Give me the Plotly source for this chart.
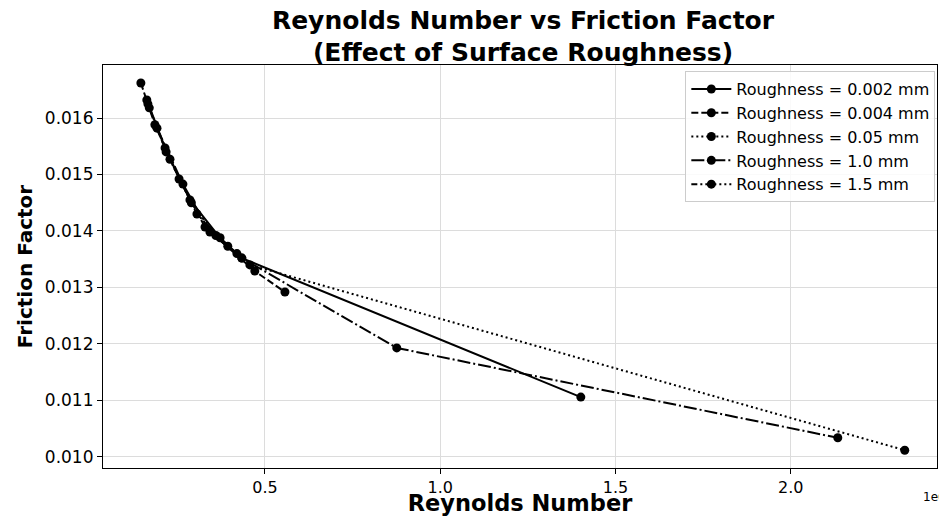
import plotly.graph_objects as go

# Data
series_names = ["Roughness = 0.002 mm", "Roughness = 0.004 mm", "Roughness = 0.05 mm",
                "Roughness = 1.0 mm", "Roughness = 1.5 mm"]

re_0002 = [163000, 215000, 286000, 372000, 434000, 1401000]
f_0002 = [0.01632, 0.01547, 0.01455, 0.01388, 0.01352, 0.01106]

re_0004 = [146000, 186000, 255000, 329000, 471000, 557000]
f_0004 = [0.01662, 0.01588, 0.01492, 0.01407, 0.01329, 0.01292]

re_005 = [166000, 218000, 306000, 394000, 457000, 2325000]
f_005 = [0.01625, 0.01540, 0.01430, 0.01373, 0.01340, 0.01012]

re_10 = [192000, 266000, 343000, 434000, 876000, 2134000]
f_10 = [0.01582, 0.01483, 0.01398, 0.01352, 0.01193, 0.01034]

re_15 = [170000, 229000, 290000, 360000, 420000]
f_15 = [0.01618, 0.01527, 0.01450, 0.01392, 0.01360]

x_tickvals = [500000, 1000000, 1500000, 2000000]
x_ticktext = ["0.5", "1.0", "1.5", "2.0"]
y_tickvals = [0.010, 0.011, 0.012, 0.013, 0.014, 0.015, 0.016]
y_ticktext = ["0.010", "0.011", "0.012", "0.013", "0.014", "0.015", "0.016"]

xs = [re_0002, re_0004, re_005, re_10, re_15]
ys = [f_0002, f_0004, f_005, f_10, f_15]
dashes = ["solid", "7px,3px", "2px,3px", "13px,3px,2px,3px", "6px,3px,2px,3px,2px,3px"]

fig = go.Figure()
for name, x, y, d in zip(series_names, xs, ys, dashes):
    fig.add_trace(go.Scatter(
        x=x, y=y, name=name, mode="lines+markers",
        line=dict(color="black", width=2, dash=d),
        marker=dict(color="black", size=9, symbol="circle"),
    ))

font_family = "DejaVu Sans"
fig.update_layout(
    width=939, height=516, autosize=False,
    paper_bgcolor="white", plot_bgcolor="white",
    margin=dict(l=103, r=2, t=65, b=48),
    font=dict(family=font_family, color="black", size=17),
    title=dict(
        text="<b>Reynolds Number vs Friction Factor<br>(Effect of Surface Roughness)</b>",
        x=0.557, xanchor="center", y=0.944, yanchor="top",
        font=dict(size=25, family=font_family, color="black"),
    ),
    showlegend=True,
    legend=dict(
        x=0.998, y=0.985, xanchor="right", yanchor="top",
        bgcolor="rgba(255,255,255,0.85)", bordercolor="#cccccc", borderwidth=1,
        font=dict(size=16, family=font_family, color="black"),
        itemwidth=40, tracegroupgap=0,
    ),
)

fig.update_xaxes(
    range=[38000, 2417000], automargin=False,
    tickvals=x_tickvals, ticktext=x_ticktext,
    showgrid=True, gridcolor="#dcdcdc", gridwidth=1,
    showline=True, linecolor="black", linewidth=1.2, mirror=True,
    ticks="outside", ticklen=5, tickcolor="black", tickwidth=1.2,
    tickfont=dict(size=16, family=font_family, color="black"),
    title=dict(text="<b>Reynolds Number</b>", font=dict(size=22.5, family=font_family, color="black"), standoff=3),
    zeroline=False,
)
fig.update_yaxes(
    range=[0.009805, 0.016938], automargin=False,
    tickvals=y_tickvals, ticktext=y_ticktext,
    showgrid=True, gridcolor="#dcdcdc", gridwidth=1,
    showline=True, linecolor="black", linewidth=1.2, mirror=True,
    ticks="outside", ticklen=5, tickcolor="black", tickwidth=1.2,
    tickfont=dict(size=17, family=font_family, color="black"),
    title=dict(text="<b>Friction Factor</b>", font=dict(size=20, family=font_family, color="black"), standoff=6),
    zeroline=False,
)

fig.add_annotation(
    text="1e6", xref="paper", yref="paper", x=0.981, y=-0.072,
    xanchor="left", yanchor="middle", showarrow=False,
    font=dict(size=12, family=font_family, color="black"),
)

fig.write_html(
    "out.html",
    config={"displayModeBar": False},
    post_script="document.body.style.margin='0';document.body.style.overflow='hidden';",
)
